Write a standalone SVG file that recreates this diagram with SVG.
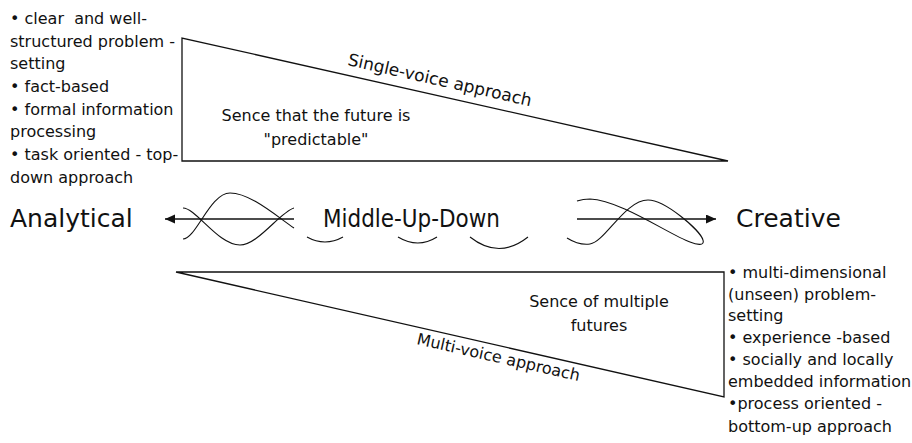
<svg xmlns="http://www.w3.org/2000/svg" width="912" height="443" viewBox="0 0 912 443">
<defs>
<style>
text{font-family:"DejaVu Sans","Liberation Sans",sans-serif;fill:#111;white-space:pre}
.b{font-size:16px}
.m{font-size:16px}
.r{font-size:17px}
.big{font-size:25px}
.ln{fill:none;stroke:#111;stroke-width:1.3}
.wv{fill:none;stroke:#111;stroke-width:1.1}
</style>
<marker id="ah" markerWidth="12" markerHeight="10" refX="10" refY="4.5" orient="auto" markerUnits="userSpaceOnUse">
<path d="M0,0 L10,4.5 L0,9 Z" fill="#111"/>
</marker>
</defs>
<rect width="912" height="443" fill="#fff"/>
<g id="left-list">
<text class="b" x="10" y="24">• clear  and well-</text>
<text class="b" x="10" y="47">structured problem -</text>
<text class="b" x="10" y="69">setting</text>
<text class="b" x="10" y="92">• fact-based</text>
<text class="b" x="10" y="115">• formal information</text>
<text class="b" x="10" y="137">processing</text>
<text class="b" x="10" y="160">• task oriented - top-</text>
<text class="b" x="10" y="183">down approach</text>
</g>
<g id="single-voice">
<polygon class="ln" points="182,38 182,161 728,161"/>
<text class="r" transform="translate(347,65) rotate(12.7)">Single-voice approach</text>
<text class="m" x="316" y="121" text-anchor="middle">Sence that the future is</text>
<text class="m" x="316" y="145" text-anchor="middle">"predictable"</text>
</g>
<g id="analytical"><text class="big" x="10" y="227">Analytical</text></g>
<g id="middle"><text class="big" x="323" y="227" textLength="177" lengthAdjust="spacingAndGlyphs">Middle-Up-Down</text></g>
<g id="creative"><text class="big" x="736" y="227">Creative</text></g>
<g id="multi-voice">
<polygon class="ln" points="176,272 724,272 724,397"/>
<text class="m" transform="translate(416,344) rotate(12.85)">Multi-voice approach</text>
<text class="m" x="599" y="307" text-anchor="middle">Sence of multiple</text>
<text class="m" x="599" y="331" text-anchor="middle">futures</text>
</g>
<g id="right-list">
<text class="b" x="728" y="278">• multi-dimensional</text>
<text class="b" x="728" y="300">(unseen) problem-</text>
<text class="b" x="728" y="321">setting</text>
<text class="b" x="728" y="343">• experience -based</text>
<text class="b" x="728" y="365">• socially and locally</text>
<text class="b" x="728" y="387">embedded information</text>
<text class="b" x="728" y="409">•process oriented -</text>
<text class="b" x="728" y="432">bottom-up approach</text>
</g>
<g id="connectors">
<line class="ln" x1="294" y1="219" x2="165" y2="219" marker-end="url(#ah)"/>
<line class="ln" x1="577" y1="219" x2="716" y2="219" marker-end="url(#ah)"/>
<path class="wv" d="M183,208 C196,208 218,245 240,245 C258,245 280,212 294,208"/>
<path class="wv" d="M183,239 C196,239 210,193 230,193 C250,193 275,215 294,228"/>
<path class="wv" d="M307,237 Q325,247 343,237"/>
<path class="wv" d="M398,237 Q418,249 437,237"/>
<path class="wv" d="M470,237 Q499,260 528,237"/>
<path class="wv" d="M567,238 C575,243 583,245 590,244 C605,242 625,200 648,200 C665,200 700,230 703,240 C705,246 697,245 690,242 C670,235 620,200 590,199 C584,199 580,200 577,201"/>
</g>
</svg>
